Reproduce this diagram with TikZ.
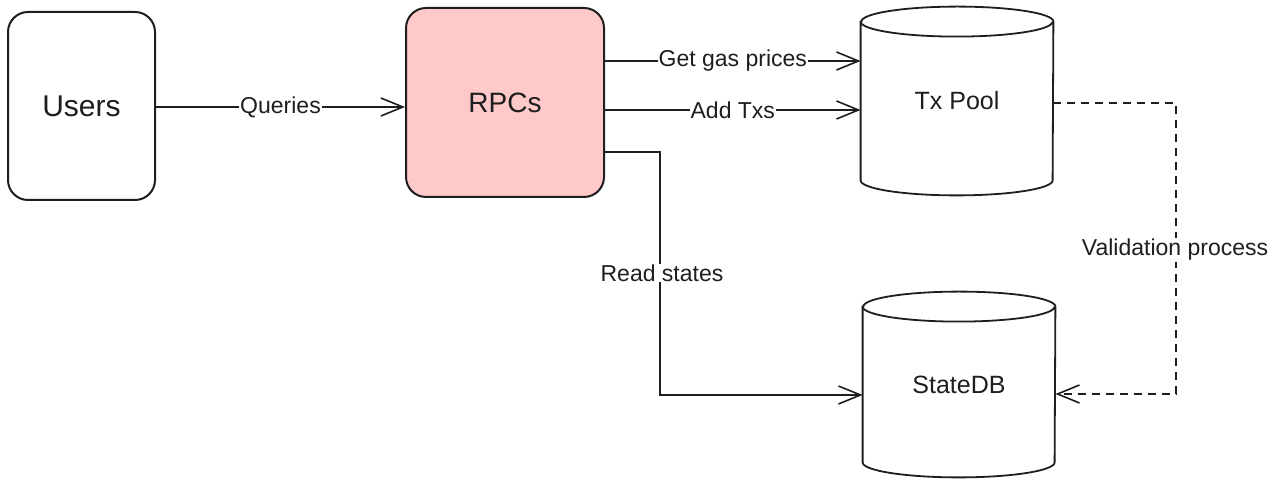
\documentclass[tikz,border=0pt]{standalone}
\usepackage{fontspec}
\setmainfont{Liberation Sans}
\usetikzlibrary{arrows.meta}
\definecolor{ink}{HTML}{1E1E1E}
\definecolor{rpcfill}{HTML}{FFC9C9}
\tikzset{
  box/.style={draw=ink, line width=1pt, rounded corners=10pt, align=center, text=ink},
  dbnode/.style={minimum width=96pt, minimum height=94pt, inner sep=0pt, font=\fontsize{12.5}{14}\selectfont, text=ink},
  arr/.style={draw=ink, line width=0.8pt, -{Straight Barb[length=11pt,width=9pt,line width=0.8pt]}},
  dasharr/.style={arr, dash pattern=on 4pt off 3pt},
  lbl/.style={fill=white, inner sep=0.5pt, font=\fontsize{11.5}{13}\selectfont, text=ink},
}
\newcommand\drawcyl[1]{%
  \draw[draw=ink, line width=0.9pt, fill=white]
    ([yshift=-7.5pt]#1.north west) -- ([yshift=7.5pt]#1.south west)
    arc[start angle=180, end angle=360, x radius=48pt, y radius=7.5pt]
    -- ([yshift=-7.5pt]#1.north east)
    arc[start angle=0, end angle=180, x radius=48pt, y radius=7.5pt] -- cycle;
  \draw[draw=ink, line width=0.9pt]
    ([yshift=-7.5pt]#1.north west)
    arc[start angle=180, end angle=360, x radius=48pt, y radius=7.5pt];
}
\begin{document}
\begin{tikzpicture}[x=0.5pt, y=-0.5pt]
\useasboundingbox (0,0) rectangle (1280,485);
% nodes
\node[box, font=\fontsize{15}{17}\selectfont, minimum width=73.5pt, minimum height=94pt] (users) at (81.5,106) {Users};
\node[box, font=\fontsize{14}{16}\selectfont, fill=rpcfill, minimum width=99pt, minimum height=94.5pt] (rpcs) at (505,102.5) {RPCs};
\node[dbnode] (txpool) at (957,101) {};
\node[dbnode, minimum height=92.5pt] (statedb) at (959,384.5) {};
\drawcyl{txpool}
\drawcyl{statedb}
\node[dbnode] at (txpool) {Tx Pool};
\node[dbnode, minimum height=92.5pt] at (statedb) {StateDB};
% connectors
\draw[arr] (users.east |- 0,107) -- (rpcs.west |- 0,107)
  node[lbl, pos=0.5] {Queries};
\draw[arr] (rpcs.east |- 0,61) -- (txpool.west |- 0,61)
  node[lbl, pos=0.5] {Get gas prices};
\draw[arr] (rpcs.east |- 0,110) -- (txpool.west |- 0,110)
  node[lbl, pos=0.5] {Add Txs};
\coordinate (r1) at (660,152);
\coordinate (r2) at (660,395);
\draw[arr] (rpcs.east |- r1) -- (r1) -- (r2) -- (statedb.west |- r2);
\node[lbl] (rlabel) at (662,273) {Read states};
\coordinate (v1) at (1176,103);
\coordinate (v2) at (1176,394);
\draw[dasharr] (txpool.east |- v1) -- (v1) -- (v2) -- (statedb.east |- v2);
\node[lbl] (vlabel) at (1175,250) {Validation process};
\end{tikzpicture}
\end{document}
